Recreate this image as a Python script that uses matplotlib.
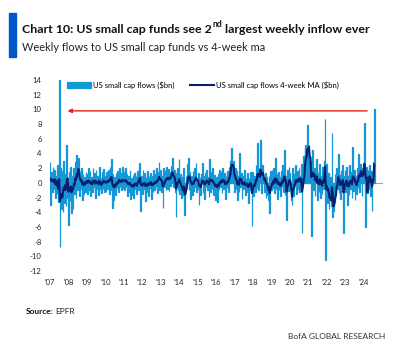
import numpy as np
import matplotlib
matplotlib.use("Agg")
import matplotlib.pyplot as plt

plt.rcParams['font.family'] = ['Lato', 'DejaVu Sans']

# semi-monthly readings (24 per year), $bn, 2007 -> mid 2024
flows = [
    2.9, -3.0, 1.5, -1.2, 2.2, -0.8, 1.8, -2.0, 1.0, -1.5, 2.4, -2.6, 14.0, -8.7, 2.0, -3.5, 1.6, -4.0, 3.0, -2.8, 1.2, -3.2, 5.2, -2.0,
    -5.7, 1.5, -2.5, 2.2, -4.1, 1.0, -3.5, 2.0, -1.5, 2.8, -2.0, 3.8, -1.0, 3.4, -1.8, 1.6, -0.8, 2.0, -2.3, 1.2, -1.5, 0.8, -1.2, 1.5,
    1.2, -1.5, 2.0, -1.0, 1.6, -1.8, 0.8, -1.2, 2.0, -0.6, 1.4, -2.0, 1.8, -0.8, 1.0, -1.6, 2.2, -1.0, 0.6, -1.4, 1.5, -0.9, 1.9, -1.2,
    1.0, -1.2, 1.5, -0.8, 1.8, -1.5, 2.2, -1.0, 3.2, -3.4, 1.2, -2.4, 0.8, -1.6, 1.4, -0.7, 1.6, -1.2, 2.0, -0.5, 1.3, -1.0, 2.2, -0.8,
    1.5, -1.0, 2.0, -0.6, 1.2, -1.8, 0.9, -1.3, 1.7, -2.2, 0.6, -1.6, 1.1, -2.0, 1.4, -0.8, 0.9, -1.5, 1.6, -1.0, 2.0, 2.7, -3.9, 1.0,
    -1.5, 1.8, -0.9, 1.3, -2.5, 0.8, -1.2, 1.6, -1.8, 1.0, -0.7, 1.4, -2.2, 0.9, -1.3, 1.8, -1.0, 1.2, -0.6, 2.0, -1.4, 1.5, 2.8, -1.0,
    1.8, -1.2, 1.0, -3.4, 2.0, -0.5, 1.6, -1.0, 2.2, -0.8, 1.9, -1.1, 1.5, -0.4, 2.3, 3.4, 1.0, -0.6, 1.8, -1.2, -4.6, 1.4, 2.0, -1.0,
    3.2, -1.5, 1.2, -2.0, 0.8, -1.8, 2.0, -4.4, -1.2, 1.0, -0.8, 2.5, 3.4, -1.0, 1.5, -2.2, 0.9, -1.6, 1.6, -1.1, 2.0, -0.6, 2.7, -1.2,
    -0.8, 1.4, -3.0, 0.6, -1.6, 1.2, 2.7, -1.4, 0.9, -2.2, 1.4, -0.6, 1.8, -1.0, 0.8, -1.9, 3.2, -1.3, 1.5, -0.9, 2.0, -1.6, 1.1, -2.4,
    -1.5, 0.8, -2.6, 1.2, -1.0, 1.8, -0.6, 1.5, -1.4, 2.0, -0.8, 1.3, -2.2, 0.9, -0.5, 1.6, -1.2, 2.2, 1.0, 3.0, 4.7, 2.6, 1.8, 3.0,
    -1.2, 2.0, -0.8, 1.6, -2.4, 0.9, -1.3, 4.0, -0.6, 1.4, -2.2, 1.0, -0.9, 1.8, -1.6, 0.7, -1.2, 1.3, -2.8, 0.6, -1.0, 1.5, -0.8, -5.9,
    1.5, -1.8, 0.9, -1.2, 2.4, -0.7, 5.4, -1.0, 2.0, 1.5, 5.9, -1.4, 1.8, 2.4, 0.6, -1.2, 1.4, -2.0, 0.8, -1.6, -2.4, 0.9, -4.1, 1.6,
    -1.0, 1.8, -0.7, 2.0, -1.4, 3.4, -0.9, 1.2, -2.2, 1.5, -1.0, 0.8, -1.8, 1.6, -0.6, 2.4, -1.3, 4.5, -1.6, 1.0, -5.0, 1.7, -1.1, 2.2,
    1.4, -1.0, -2.4, -3.0, 2.0, -1.8, 1.2, -0.6, 2.4, -1.5, 1.6, -0.8, 2.0, -1.2, 1.0, 2.6, -6.8, 1.4, 3.6, 2.0, 4.8, 5.2, 3.0, 7.9,
    4.2, 5.2, 2.4, 3.0, -7.3, 1.6, 4.5, -1.0, 2.0, -1.8, 0.9, 3.2, -2.4, 1.4, -1.2, 2.6, -2.0, 1.0, -1.5, 2.2, -0.8, 3.0, 8.7, -10.5,
    2.5, -2.8, 1.4, -3.6, -2.2, 0.8, -3.2, 6.8, -4.7, -3.8, -2.6, 1.2, -1.6, 2.0, -0.8, 3.9, -1.4, 1.1, -2.2, 1.6, -0.9, 2.4, -6.8, 1.0,
    1.8, -1.2, 2.2, -3.0, 1.0, -1.6, 2.4, -0.8, 1.5, -2.0, 4.9, -1.1, 1.8, -2.4, 0.9, -1.5, 2.0, -0.7, 3.9, -1.2, 2.6, 1.2, -1.8, 2.0,
    1.5, 8.1, -1.0, -6.0, 2.2, -1.4, 1.8, -0.9, 2.4, -1.8, 1.6, -3.8, 1.2, 2.8, 10.0,
]

flows_ma = [
    0.6, 0.3, 0.5, 0.2, 0.4, 0.1, 0.5, -0.2, 0.3, -0.4, 0.2, -0.8, 0.5, -2.5, -1.8, -1.5, -2.0, -1.2, -0.6, -1.0, -0.3, -0.9, 0.4, 0.6,
    -1.2, -0.8, -1.0, -0.5, -1.3, -0.8, -0.9, -0.2, -0.3, 0.6, 0.4, 1.2, 1.0, 1.9, 1.0, 0.6, 0.3, 0.4, -0.2, 0.1, -0.3, -0.1, -0.2, 0.2,
    0.2, 0.0, 0.3, 0.1, 0.2, -0.1, 0.0, -0.2, 0.3, 0.2, 0.3, -0.1, 0.2, 0.1, 0.0, -0.2, 0.3, 0.1, -0.1, -0.3, 0.1, 0.0, 0.3, 0.1,
    0.1, 0.0, 0.2, 0.1, 0.3, 0.2, 0.5, 0.4, 0.8, 0.0, -0.4, -0.6, -0.3, -0.5, -0.1, -0.2, 0.1, 0.0, 0.4, 0.3, 0.2, 0.1, 0.4, 0.3,
    0.3, 0.2, 0.4, 0.3, 0.2, -0.1, -0.1, -0.2, 0.0, -0.3, -0.4, -0.5, -0.3, -0.5, -0.2, -0.1, -0.2, -0.4, 0.0, 0.1, 0.4, 0.7, -0.2, -0.3,
    -0.4, -0.1, -0.2, 0.0, -0.4, -0.3, -0.4, -0.1, -0.3, -0.1, -0.2, 0.1, -0.3, -0.2, -0.3, 0.0, -0.1, 0.1, 0.0, 0.3, 0.2, 0.4, 0.8, 0.5,
    0.5, 0.3, 0.2, -0.5, -0.2, -0.1, 0.3, 0.4, 0.6, 0.5, 0.7, 0.5, 0.7, 0.6, 1.0, 1.4, 1.3, 0.9, 0.8, 0.4, -0.8, -0.6, 0.0, 0.1,
    0.5, 0.2, -0.1, -0.4, -0.6, -1.0, -0.5, -1.4, -1.6, -0.9, -0.5, 0.2, 0.8, 0.9, 0.7, 0.2, 0.1, -0.2, 0.0, -0.1, 0.3, 0.4, 0.7, 0.5,
    0.3, 0.2, -0.4, -0.3, -0.6, -0.2, 0.3, 0.1, 0.2, -0.2, -0.1, 0.0, 0.3, 0.2, 0.1, -0.2, 0.5, 0.3, 0.4, 0.2, 0.3, 0.0, -0.1, -0.4,
    -0.5, -0.3, -0.6, -0.2, -0.4, 0.1, 0.0, 0.3, 0.1, 0.4, 0.2, 0.3, -0.2, -0.1, -0.1, 0.2, 0.1, 0.5, 0.8, 1.3, 2.3, 2.5, 2.4, 2.2,
    1.2, 0.9, 0.5, 0.4, -0.2, 0.0, -0.3, 0.6, 0.4, 0.5, -0.1, 0.0, -0.2, 0.1, -0.3, -0.2, -0.4, -0.1, -0.6, -0.4, -0.3, 0.0, -0.3, -1.4,
    -0.8, -0.5, -0.2, -0.4, 0.4, 0.3, 1.2, 1.0, 1.2, 0.8, 1.8, 1.2, 1.1, 1.4, 0.9, 0.4, 0.5, 0.0, -0.1, -0.4, -0.9, -0.6, -1.4, -0.9,
    -0.5, -0.1, -0.2, 0.3, 0.0, 0.6, 0.4, 0.5, -0.1, 0.1, -0.2, -0.1, -0.4, 0.0, -0.1, 0.4, 0.2, 0.9, 0.4, 0.3, -1.2, -0.6, -0.3, 0.2,
    0.4, 0.1, -0.8, -1.9, -0.9, -0.8, -0.3, -0.2, 0.4, 0.1, 0.4, 0.2, 0.6, 0.3, 0.2, 0.6, -1.2, -0.6, 0.2, 0.8, 2.5, 3.2, 3.6, 4.6,
    4.4, 4.9, 3.6, 3.4, 0.8, 1.2, 1.4, 0.9, 1.2, 0.4, 0.3, 0.9, 0.0, 0.3, -0.2, 0.5, -0.1, 0.2, -0.4, 0.3, 0.0, 0.6, 2.2, -0.8,
    -0.4, -1.0, -0.8, -1.5, -2.1, -1.8, -2.4, -0.6, -1.6, -3.2, -2.9, -2.2, -1.7, -0.6, -0.4, 0.8, 0.4, 0.3, -0.3, 0.0, -0.2, 0.4, -1.3, -0.8,
    -0.2, 0.1, 0.3, -0.4, -0.2, -0.5, 0.2, 0.1, 0.3, -0.2, 0.9, 0.6, 0.7, 0.1, 0.0, -0.3, 0.3, 0.2, 1.0, 0.8, 1.3, 1.6, 0.9, 1.0,
    1.2, 2.6, 2.0, 0.6, 0.8, -1.3, -0.2, 0.4, 0.9, 0.1, 0.5, -0.5, 0.0, 0.5, 2.5,
]

years = list(range(2007, 2025))
year_labels = ["'%02d" % (y % 100) for y in years]
y_ticks = list(range(-12, 15, 2))
arrow_level = 9.8

bar_col = '#1596d6'
ma_col = '#0a1f6e'

t = 2007 + np.arange(len(flows)) / 24.0

fig = plt.figure(figsize=(4.13, 3.51), dpi=100)
ax = fig.add_axes([0.121, 0.228, 0.806, 0.544])

bars = ax.bar(t, flows, width=1 / 24.0, color=bar_col, edgecolor=bar_col, linewidth=0.9,
              label='US small cap flows ($bn)', zorder=2)
line, = ax.plot(t, flows_ma, color=ma_col, lw=1.5, label='US small cap flows 4-week MA ($bn)', zorder=3)
ax.axhline(0, color='#a0a0a0', lw=0.8, zorder=1)

ax.annotate('', xy=(2007.8, arrow_level), xytext=(2024.35, arrow_level),
            arrowprops=dict(arrowstyle='-|>', color='#e0201b', lw=1.0, mutation_scale=6), zorder=4)

ax.set_xlim(2007.0, 2025.05)
ax.set_ylim(-12, 14)
ax.set_yticks(y_ticks)
ax.set_yticklabels([str(v) for v in y_ticks], fontsize=5.5, color='#222222')
ax.set_xticks(years)
ax.set_xticklabels(year_labels, fontsize=5.5, color='#222222')
ax.tick_params(length=0, pad=6)
for s in ax.spines.values():
    s.set_visible(False)

ax.legend([bars, line], [bars.get_label(), line.get_label()], loc='upper left',
          bbox_to_anchor=(0.03, 1.03), ncol=2, frameon=False,
          fontsize=5.5, handlelength=3.2, handletextpad=0.2, columnspacing=2.0)

# title block
fig.patches.append(plt.Rectangle((9 / 413, 1 - 57 / 351), 7 / 413, 44 / 351,
                                 transform=fig.transFigure, color='#0057c8'))
r = fig.canvas.get_renderer()
t1 = fig.text(22 / 413, 1 - 33 / 351, 'Chart 10: US small cap funds see 2', fontsize=8.9,
              fontweight='bold', color='#111111')
bb = t1.get_window_extent(r)
t2 = fig.text(bb.x1 / 413 + 0.001, 1 - 27 / 351, 'nd', fontsize=6.2, fontweight='bold', color='#111111')
bb2 = t2.get_window_extent(r)
fig.text(bb2.x1 / 413, 1 - 33 / 351, ' largest weekly inflow ever', fontsize=8.9,
         fontweight='bold', color='#111111')
fig.text(22 / 413, 1 - 51 / 351, 'Weekly flows to US small cap funds vs 4-week ma', fontsize=7.9,
         color='#222222')

s1 = fig.text(26 / 413, 1 - 314 / 351, 'Source:', fontsize=6, fontweight='bold', color='#111111')
sb = s1.get_window_extent(r)
fig.text(sb.x1 / 413 + 0.004, 1 - 314 / 351, 'EPFR', fontsize=6, color='#222222')
fig.text(385 / 413, 1 - 339 / 351, 'BofA GLOBAL RESEARCH', fontsize=6, color='#333333', ha='right')

fig.savefig('out.png', dpi=100)
